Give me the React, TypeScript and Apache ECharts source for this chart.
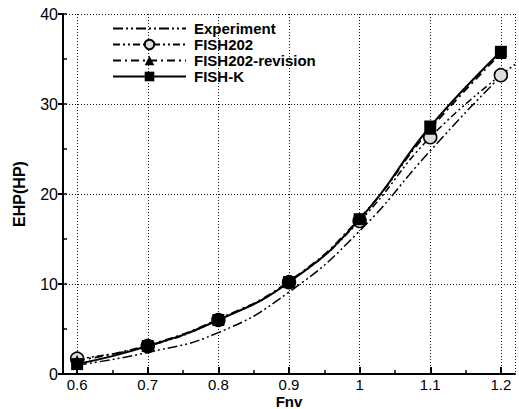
import React, { useEffect, useRef } from "react";
import * as echarts from "echarts";

const fnv = [0.6, 0.7, 0.8, 0.9, 1.0, 1.1, 1.2];
const expX = [0.6, 0.7, 0.8, 0.9, 1.0, 1.1, 1.2, 1.22];
const experiment = [1.0, 2.4, 4.6, 9.1, 15.9, 24.8, 33.1, 34.4];
const fish202 = [1.7, 3.1, 6.0, 10.2, 17.0, 26.3, 33.2];
const fish202Revision = [1.5, 3.2, 6.1, 10.3, 17.3, 27.2, 35.6];
const fishK = [1.1, 3.1, 6.0, 10.2, 17.2, 27.5, 35.8];
const xMinorTicks = [0.65, 0.75, 0.85, 0.95, 1.05, 1.15];
const seriesNames = ["Experiment", "FISH202", "FISH202-revision", "FISH-K"];

const pairs = (xs: number[], ys: number[]) => ys.map((y, i) => [xs[i], y]);

export default function App() {
  const ref = useRef<HTMLDivElement>(null);
  useEffect(() => {
    if (!ref.current) return;
    const chart = echarts.init(ref.current, null, { renderer: "svg" });
    const font = "Liberation Sans, Arial, sans-serif";
    const dotted = { color: "#111", type: [1, 2] as any, width: 1 };
    chart.setOption({
      animation: false,
      backgroundColor: "#fff",
      grid: { left: 63, right: 4, top: 14, bottom: 35, outerBoundsMode: "none", containLabel: false },
      legend: {
        orient: "vertical",
        left: 107,
        top: 16,
        itemWidth: 73,
        itemHeight: 12,
        itemGap: 1,
        data: seriesNames,
        textStyle: {
          fontFamily: font,
          fontWeight: "bold",
          fontSize: 15,
          color: "#000",
          padding: [0, 0, 0, 3],
        },
      },
      xAxis: [
        {
          type: "value",
          min: 0.58,
          max: 1.22,
          name: "Fnv",
          nameLocation: "middle",
          nameGap: 20,
          nameMoveOverlap: false,
          nameTextStyle: {
            fontFamily: font,
            fontWeight: "bold",
            fontSize: 15,
            lineHeight: 15,
            color: "#000",
            verticalAlign: "top",
          },
          axisLine: { show: true, onZero: false, lineStyle: { color: "#000", width: 2 } },
          axisTick: { show: true, inside: true, length: 7, lineStyle: { color: "#000", width: 2 } },
          axisLabel: {
            showMinLabel: false,
            showMaxLabel: false,
            margin: 3,
            fontFamily: font,
            fontSize: 15,
            lineHeight: 15,
            color: "#000",
          },
          splitLine: { show: true, lineStyle: dotted },
        },
        {
          type: "value",
          min: 0.58,
          max: 1.22,
          position: "bottom",
          axisLine: { show: false },
          axisTick: { show: true, inside: true, length: 4, customValues: xMinorTicks, lineStyle: { color: "#000", width: 1.5 } },
          axisLabel: { show: false },
          splitLine: { show: false },
        },
      ],
      yAxis: [
        {
          type: "value",
          min: 0,
          max: 40,
          interval: 10,
          name: "EHP(HP)",
          nameLocation: "middle",
          nameGap: 36,
          nameMoveOverlap: false,
          nameTextStyle: { fontFamily: font, fontWeight: "bold", fontSize: 16, color: "#000" },
          axisLine: { show: true, onZero: false, lineStyle: { color: "#000", width: 2 } },
          axisTick: { show: true, inside: false, length: 5, lineStyle: { color: "#000", width: 2 } },
          axisLabel: { margin: 5, fontFamily: font, fontSize: 16, color: "#000" },
          splitLine: { show: true, lineStyle: dotted },
        },
        {
          type: "value",
          min: 0,
          max: 40,
          interval: 5,
          position: "left",
          axisLine: { show: false },
          axisTick: { show: true, inside: true, length: 4, lineStyle: { color: "#000", width: 1.5 } },
          axisLabel: { show: false },
          splitLine: { show: false },
        },
      ],
      series: [
        {
          name: seriesNames[0],
          type: "line",
          smooth: true,
          symbol: "none",
          data: pairs(expX, experiment),
          lineStyle: { color: "#000", width: 1.5, type: [10, 3, 2, 3, 2, 3] },
          itemStyle: { color: "#000", opacity: 0 },
        },
        {
          name: seriesNames[1],
          type: "line",
          smooth: true,
          symbol: "circle",
          symbolSize: 13,
          data: pairs(fnv, fish202),
          lineStyle: { color: "#000", width: 1.5, type: [7, 3, 2, 3, 2, 3] },
          itemStyle: { color: "#ddd", borderColor: "#000", borderWidth: 1.5 },
        },
        {
          name: seriesNames[2],
          type: "line",
          smooth: true,
          symbol: "triangle",
          symbolSize: 11,
          data: pairs(fnv, fish202Revision),
          lineStyle: { color: "#000", width: 1.8, type: [8, 4, 2, 4] },
          itemStyle: { color: "#000" },
        },
        {
          name: seriesNames[3],
          type: "line",
          smooth: true,
          symbol: "rect",
          symbolSize: 12,
          data: pairs(fnv, fishK),
          lineStyle: { color: "#000", width: 2 },
          itemStyle: { color: "#000" },
        },
      ],
    });
    return () => chart.dispose();
  }, []);
  return <div ref={ref} style={{ width: 519, height: 409, position: "absolute", left: 0, top: 0 }} />;
}
